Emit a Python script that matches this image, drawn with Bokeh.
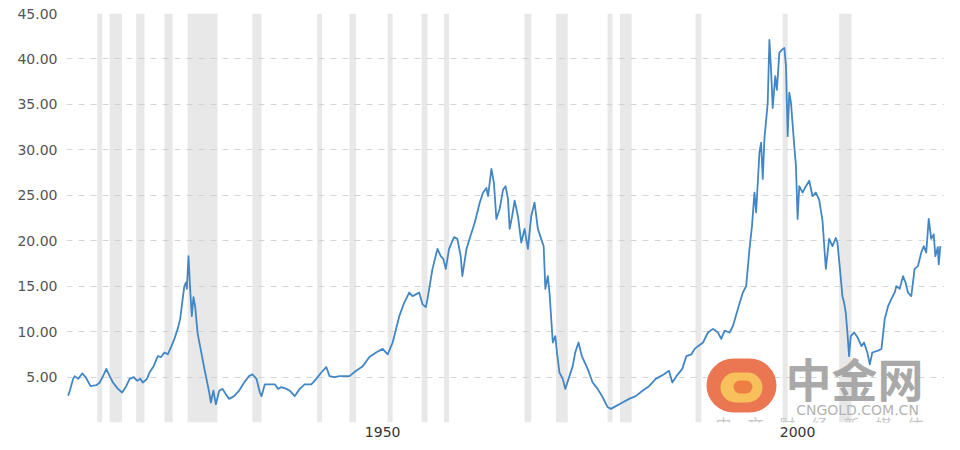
from bokeh.plotting import figure
from bokeh.models import FixedTicker, NumeralTickFormatter, Label, BoxAnnotation, Range1d
from bokeh.embed import file_html
from bokeh.resources import INLINE

# ---------------- data ----------------
years = [
    1914.9, 1915.1, 1915.5, 1915.7, 1916.1, 1916.6, 1917.0, 1917.6, 1918.3, 1918.7,
    1919.1, 1919.5, 1919.9, 1920.3, 1920.9, 1921.4, 1921.9, 1922.3, 1922.8, 1923.2,
    1923.6, 1923.9, 1924.4, 1924.7, 1925.2, 1925.7, 1926.1, 1926.5, 1926.9, 1927.3,
    1927.7, 1928.1, 1928.4, 1928.7, 1928.9, 1929.1, 1929.2, 1929.4, 1929.6, 1929.8,
    1930.0, 1930.2, 1930.5, 1930.9, 1931.3, 1931.7,
    1931.9, 1932.1, 1932.4, 1932.7, 1933.1, 1933.5, 1933.9, 1934.3, 1934.9, 1935.5,
    1936.1, 1936.7, 1937.1, 1937.6, 1938.0, 1938.2, 1938.6, 1939.2, 1939.8, 1940.2,
    1940.6, 1941.2, 1941.6, 1942.2, 1942.8, 1943.4, 1944.2, 1944.8, 1945.4, 1946.0,
    1946.4, 1947.0, 1947.6,
    1948.0, 1948.8, 1949.6, 1950.4, 1951.2, 1952.0, 1952.8, 1953.4, 1954.0, 1954.8,
    1955.4, 1956.0, 1956.4, 1956.8, 1957.2, 1957.6, 1958.0, 1958.2, 1958.8, 1959.4,
    1959.8, 1960.1, 1960.4, 1960.8, 1961.4, 1961.8, 1962.2, 1962.4, 1962.9, 1963.3,
    1963.9, 1964.5, 1964.9, 1965.3, 1965.5, 1965.9, 1966.2, 1966.5, 1966.9, 1967.3,
    1967.6, 1967.9, 1968.1, 1968.4, 1968.7, 1969.1, 1969.5, 1969.9, 1970.3, 1970.7,
    1971.1, 1971.5, 1971.9, 1972.2, 1972.4, 1972.7, 1972.9, 1973.3, 1973.6, 1973.8,
    1974.1, 1974.5, 1974.8, 1975.2, 1975.7, 1976.0, 1976.4, 1976.8, 1977.5,
    1978.1, 1978.7, 1979.3, 1979.9, 1980.3, 1980.9, 1981.7, 1982.5, 1983.3, 1984.1,
    1984.9, 1985.7, 1986.3, 1986.7, 1987.3, 1987.7, 1988.2, 1988.9, 1989.4, 1990.0,
    1990.4, 1990.8, 1991.4, 1992.0, 1992.6, 1993.2,
    1993.6, 1994.0, 1994.6, 1995.0, 1995.6, 1996.2, 1996.6, 1997.0, 1997.3, 1997.6,
    1997.8, 1998.2, 1998.4, 1998.6, 1998.8, 1999.2, 1999.4, 1999.6, 1999.8, 2000.1,
    2000.3, 2000.6, 2000.9, 2001.2, 2001.4, 2001.6, 2001.8, 2002.0, 2002.4, 2002.6,
    2002.8, 2003.0, 2003.4, 2003.8, 2004.2, 2004.6, 2005.0, 2005.4, 2005.8, 2006.2,
    2006.6, 2007.0, 2007.4, 2007.6, 2007.9,
    2008.2, 2008.4, 2008.6, 2008.8, 2009.0, 2009.2, 2009.6, 2010.0, 2010.5, 2010.8,
    2011.2, 2011.5, 2011.8, 2012.5, 2012.9, 2013.3, 2013.7, 2014.1, 2014.5, 2014.7,
    2015.1, 2015.5, 2015.8, 2016.1, 2016.5, 2016.9, 2017.3, 2017.7, 2018.0, 2018.3,
    2018.6, 2018.9, 2019.2, 2019.4, 2019.7, 2019.8, 2020.0,
]
ratio = [
    2.95, 3.5, 4.8, 5.1, 4.8, 5.4, 5.0, 4.0, 4.1, 4.4,
    5.1, 5.9, 5.1, 4.4, 3.7, 3.3, 4.0, 4.8, 5.0, 4.6,
    4.8, 4.4, 4.8, 5.5, 6.2, 7.3, 7.2, 7.7, 7.5, 8.3,
    9.2, 10.3, 11.4, 13.6, 15.0, 15.4, 14.7, 18.3, 14.7, 11.7,
    13.8, 12.8, 9.8, 7.9, 6.0, 4.2,
    3.3, 2.2, 3.5, 2.0, 3.5, 3.7, 3.1, 2.6, 2.9, 3.5,
    4.4, 5.1, 5.3, 4.8, 3.3, 2.9, 4.2, 4.2, 4.2, 3.7,
    3.9, 3.7, 3.5, 2.9, 3.7, 4.2, 4.2, 4.8, 5.5, 6.1,
    5.1, 5.0, 5.1,
    5.1, 5.1, 5.7, 6.2, 7.2, 7.7, 8.1, 7.5, 8.8, 11.7,
    13.2, 14.3, 13.9, 14.1, 14.3, 13.0, 12.7, 13.6, 16.9, 19.1,
    18.3, 18.0, 16.9, 19.1, 20.4, 20.2, 18.3, 16.1, 19.1, 20.3,
    22.0, 24.2, 25.3, 25.8, 24.9, 27.9, 26.4, 22.4, 23.5, 25.6,
    26.0, 24.6, 21.3, 22.7, 24.4, 22.7, 19.8, 21.3, 19.1, 22.7,
    24.2, 21.3, 20.2, 19.4, 14.7, 16.1, 14.3, 8.8, 9.5, 7.7,
    5.5, 4.8, 3.7, 4.8, 6.2, 7.7, 8.8, 7.3, 5.9,
    4.4, 3.7, 2.8, 1.7, 1.5, 1.8, 2.2, 2.6, 2.9, 3.5,
    4.0, 4.8, 5.1, 5.3, 5.7, 4.4, 5.1, 5.9, 7.3, 7.5,
    8.1, 8.4, 8.8, 9.9, 10.3, 9.9,
    9.2, 10.1, 9.9, 10.6, 12.5, 14.3, 15.0, 19.1, 21.6, 25.3,
    23.1, 29.7, 30.8, 26.8, 31.2, 35.2, 42.1, 38.8, 34.6, 38.1,
    36.6, 40.7, 41.0, 41.2, 39.2, 31.5, 36.3, 35.2, 30.4, 28.2,
    22.4, 26.0, 25.3, 26.0, 26.6, 24.9, 25.3, 24.5, 22.2, 16.9,
    20.2, 19.4, 20.3, 19.8, 16.9,
    13.9, 13.2, 12.1, 9.9, 7.3, 9.5, 9.9, 9.4, 8.4, 8.8,
    7.7, 6.4, 7.7, 7.9, 8.1, 11.4, 12.8, 13.6, 14.3, 15.0,
    14.7, 16.1, 15.4, 14.3, 13.9, 16.9, 17.2, 18.7, 19.4, 18.7,
    22.4, 20.2, 20.7, 18.3, 19.3, 17.4, 19.4,
]

# recession periods (grey bands)
rec_start = [1918.4, 1919.9, 1923.1, 1926.5, 1929.3, 1937.1, 1944.9, 1948.8, 1953.4,
             1957.5, 1960.2, 1969.9, 1973.7, 1979.9, 1981.4, 1990.5, 2001.0, 2007.8]
rec_end = [1919.0, 1921.4, 1924.1, 1927.5, 1932.9, 1938.2, 1945.5, 1949.6, 1954.0,
           1958.2, 1960.8, 1970.7, 1975.1, 1980.5, 1982.8, 1991.2, 2001.6, 2009.3]

y_ticks = [5, 10, 15, 20, 25, 30, 35, 40, 45]
grid_ticks = [0, 5, 10, 15, 20, 25, 30, 35, 40, 45]
x_tick_labels = ["1950", "2000"]
x_tick_pos = [1952.8, 2002.8]

# ---------------- figure ----------------
p = figure(width=946, height=442, output_backend="svg", toolbar_location=None,
           x_range=Range1d(1914.7, 2020.5), y_range=Range1d(0, 45),
           min_border_left=66, min_border_right=2, min_border_top=13, min_border_bottom=20)
p.outline_line_color = None
p.background_fill_color = "white"
p.border_fill_color = "white"

p.quad(left=rec_start, right=rec_end, bottom=0, top=45,
       fill_color="#cccccc", fill_alpha=0.45, line_color=None)
p.line(years, ratio, line_color="#4286c6", line_width=1.8, line_join="round")

p.xgrid.visible = False
p.ygrid.ticker = FixedTicker(ticks=grid_ticks)
p.ygrid.grid_line_color = "#d6d6d6"
p.ygrid.grid_line_dash = "6 6"
p.ygrid.grid_line_width = 1

p.yaxis.ticker = FixedTicker(ticks=y_ticks)
p.yaxis.formatter = NumeralTickFormatter(format="0.00")
p.yaxis.axis_line_color = None
p.yaxis.major_tick_line_color = None
p.yaxis.minor_tick_line_color = None
p.yaxis.major_tick_out = 0
p.yaxis.major_tick_in = 0
p.yaxis.minor_tick_out = 0
p.yaxis.major_label_standoff = 9
p.yaxis.major_label_text_font = "DejaVu Sans"
p.yaxis.major_label_text_font_size = "14px"
p.yaxis.major_label_text_color = "#555555"

p.xaxis.ticker = FixedTicker(ticks=x_tick_pos)
p.xaxis.major_label_overrides = {pos: lab for pos, lab in zip(x_tick_pos, x_tick_labels)}
p.xaxis.axis_line_color = None
p.xaxis.major_tick_line_color = None
p.xaxis.minor_tick_line_color = None
p.xaxis.major_tick_out = 0
p.xaxis.major_tick_in = 0
p.xaxis.minor_tick_out = 0
p.xaxis.major_label_standoff = 4
p.xaxis.major_label_text_font = "DejaVu Sans"
p.xaxis.major_label_text_font_size = "14px"
p.xaxis.major_label_text_color = "#333333"

# ---------------- watermark (中金网) ----------------
scr = dict(left_units="screen", right_units="screen", top_units="screen", bottom_units="screen")
p.add_layout(BoxAnnotation(left=640, right=710, bottom=10, top=64, fill_color="#e9673f",
                           fill_alpha=0.9, line_color=None, border_radius=27, level="overlay", **scr))
p.add_layout(BoxAnnotation(left=654, right=696, bottom=20, top=50, fill_color="#f8c45c",
                           fill_alpha=0.95, line_color=None, border_radius=15, level="overlay", **scr))
p.add_layout(BoxAnnotation(left=667, right=686, bottom=29, top=42, fill_color="#ec7b45",
                           fill_alpha=0.95, line_color=None, border_radius=7, level="overlay", **scr))
p.add_layout(Label(x=719, y=13, x_units="screen", y_units="screen", text="中金网",
                   text_font="Noto Sans CJK SC", text_font_size="46px", text_font_style="bold",
                   text_color="#9a9a9a", text_alpha=0.85, text_baseline="bottom", level="overlay"))
p.add_layout(Label(x=791, y=5, x_units="screen", y_units="screen", text="CNGOLD.COM.CN",
                   text_font="DejaVu Sans", text_font_size="14px", text_align="center",
                   text_color="#b3b3b3", text_baseline="bottom", level="overlay"))
p.add_layout(Label(x=753, y=-1, x_units="screen", y_units="screen",
                   text="中\u3000文\u3000财\u3000经\u3000新\u3000媒\u3000体",
                   text_font="Noto Sans CJK SC", text_font_size="16px", text_align="center",
                   text_color="#c8c8c8", text_baseline="middle", level="overlay"))

open("out.html", "w").write(file_html(p, INLINE))
